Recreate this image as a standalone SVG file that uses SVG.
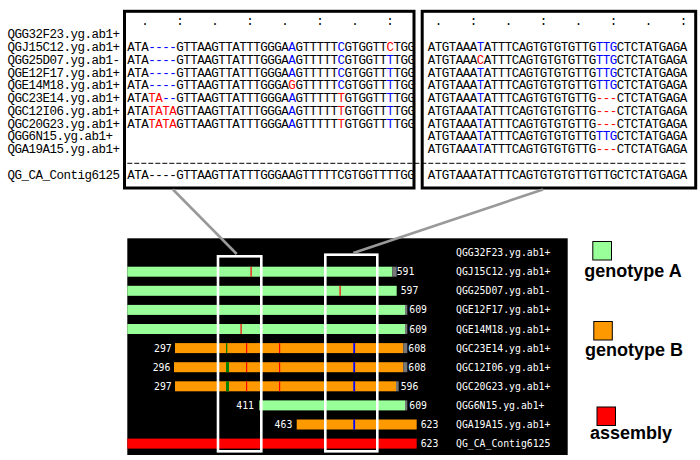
<svg xmlns="http://www.w3.org/2000/svg" width="700" height="460" viewBox="0 0 700 460">
<style>
.seq{font-family:"Liberation Mono","DejaVu Sans Mono",monospace;font-size:12.5px;letter-spacing:-0.5px;fill:#000}
.b{fill:#0000ff}
.r{fill:#ff0000}
.box{fill:none;stroke:#000;stroke-width:3}
.win{fill:none;stroke:#fff;stroke-width:2.6}
.pt{font-family:"DejaVu Sans Mono",monospace;font-size:9.8px;fill:#fff}
.leg{font-family:"Liberation Sans",Arial,sans-serif;font-size:18px;font-weight:bold;fill:#000}
.conn{stroke:#999;stroke-width:2.6;fill:none}
.ga{fill:#99ff99}
.gb{fill:#ff9900}
.as{fill:#ff0000}
.cap{fill:#777}
.mr{fill:#ff0000}
.mg{fill:#008000}
.mb{fill:#0000ff}
.sq{stroke:#000;stroke-width:1}
</style>
<rect width="700" height="460" fill="#fff"/>

<g id="read-labels" class="seq">
<text x="7.5" y="38.1">QGG32F23.yg.ab1+</text>
<text x="7.5" y="50.9">QGJ15C12.yg.ab1+</text>
<text x="7.5" y="63.7">QGG25D07.yg.ab1-</text>
<text x="7.5" y="76.5">QGE12F17.yg.ab1+</text>
<text x="7.5" y="89.2">QGE14M18.yg.ab1+</text>
<text x="7.5" y="102">QGC23E14.yg.ab1+</text>
<text x="7.5" y="114.8">QGC12I06.yg.ab1+</text>
<text x="7.5" y="127.6">QGC20G23.yg.ab1+</text>
<text x="7.5" y="140.4">QGG6N15.yg.ab1+</text>
<text x="7.5" y="153.2">QGA19A15.yg.ab1+</text>
<text x="7.5" y="179.2">QG_CA_Contig6125</text>
</g>

<line x1="127.3" y1="163.3" x2="687" y2="163.3" stroke="#000" stroke-width="1" stroke-dasharray="5 2"/>

<g id="alignment-left" class="seq">
<text x="127.3" y="25" xml:space="preserve">  .    :    .    :    .    :    .    :</text>
<text x="127.3" y="50.9">ATA<tspan class="b">----</tspan>GTTAAGTTATTTGGGA<tspan class="b">A</tspan>GTTTTT<tspan class="b">C</tspan>GTGGTT<tspan class="r">C</tspan>TGG</text>
<text x="127.3" y="63.7">ATA<tspan class="b">----</tspan>GTTAAGTTATTTGGGA<tspan class="b">A</tspan>GTTTTT<tspan class="b">C</tspan>GTGGTT<tspan class="b">T</tspan>TGG</text>
<text x="127.3" y="76.5">ATA<tspan class="b">----</tspan>GTTAAGTTATTTGGGA<tspan class="b">A</tspan>GTTTTT<tspan class="b">C</tspan>GTGGTT<tspan class="b">T</tspan>TGG</text>
<text x="127.3" y="89.2">ATA<tspan class="b">----</tspan>GTTAAGTTATTTGGGA<tspan class="r">G</tspan>GTTTTT<tspan class="b">C</tspan>GTGGTT<tspan class="b">T</tspan>TGG</text>
<text x="127.3" y="102">ATA<tspan class="r">TA</tspan><tspan class="b">--</tspan>GTTAAGTTATTTGGGA<tspan class="b">A</tspan>GTTTTT<tspan class="r">T</tspan>GTGGTT<tspan class="b">T</tspan>TGG</text>
<text x="127.3" y="114.8">ATA<tspan class="r">TATA</tspan>GTTAAGTTATTTGGGA<tspan class="b">A</tspan>GTTTTT<tspan class="r">T</tspan>GTGGTT<tspan class="b">T</tspan>TGG</text>
<text x="127.3" y="127.6">ATA<tspan class="r">TATA</tspan>GTTAAGTTATTTGGGA<tspan class="b">A</tspan>GTTTTT<tspan class="r">T</tspan>GTGGTT<tspan class="b">T</tspan>TGG</text>
<text x="127.3" y="179.2">ATA----GTTAAGTTATTTGGGAAGTTTTTCGTGGTTTTGG</text>
<rect class="box" x="124.5" y="11.3" width="289.5" height="176.7"/>
</g>

<g id="alignment-right" class="seq">
<text x="427.7" y="25" xml:space="preserve"> .    :    .    :    .    :    .    :</text>
<text x="427.7" y="50.9">ATGTAAA<tspan class="b">T</tspan>ATTTCAGTGTGTGTTG<tspan class="b">TTG</tspan>CTCTATGAGA</text>
<text x="427.7" y="63.7">ATGTAAA<tspan class="r">C</tspan>ATTTCAGTGTGTGTTG<tspan class="b">TTG</tspan>CTCTATGAGA</text>
<text x="427.7" y="76.5">ATGTAAA<tspan class="b">T</tspan>ATTTCAGTGTGTGTTG<tspan class="b">TTG</tspan>CTCTATGAGA</text>
<text x="427.7" y="89.2">ATGTAAA<tspan class="b">T</tspan>ATTTCAGTGTGTGTTG<tspan class="b">TTG</tspan>CTCTATGAGA</text>
<text x="427.7" y="102">ATGTAAA<tspan class="b">T</tspan>ATTTCAGTGTGTGTTG<tspan class="r">---</tspan>CTCTATGAGA</text>
<text x="427.7" y="114.8">ATGTAAA<tspan class="b">T</tspan>ATTTCAGTGTGTGTTG<tspan class="r">---</tspan>CTCTATGAGA</text>
<text x="427.7" y="127.6">ATGTAAA<tspan class="b">T</tspan>ATTTCAGTGTGTGTTG<tspan class="r">---</tspan>CTCTATGAGA</text>
<text x="427.7" y="140.4">ATGTAAA<tspan class="b">T</tspan>ATTTCAGTGTGTGTTG<tspan class="b">TTG</tspan>CTCTATGAGA</text>
<text x="427.7" y="153.2">ATGTAAA<tspan class="b">T</tspan>ATTTCAGTGTGTGTTG<tspan class="r">---</tspan>CTCTATGAGA</text>
<text x="427.7" y="179.2">ATGTAAATATTTCAGTGTGTGTTGTTGCTCTATGAGA</text>
<rect class="box" x="422.2" y="11.3" width="273.5" height="176.7"/>
</g>

<g id="read-map">
<rect x="127.3" y="238.3" width="440.4" height="216.7" fill="#000"/>
<g class="pt">
<text x="456" y="256.1">QGG32F23.yg.ab1+</text>
<text x="456" y="275.2">QGJ15C12.yg.ab1+</text>
<text x="456" y="294.3">QGG25D07.yg.ab1-</text>
<text x="456" y="313.4">QGE12F17.yg.ab1+</text>
<text x="456" y="332.5">QGE14M18.yg.ab1+</text>
<text x="456" y="351.6">QGC23E14.yg.ab1+</text>
<text x="456" y="370.7">QGC12I06.yg.ab1+</text>
<text x="456" y="389.8">QGC20G23.yg.ab1+</text>
<text x="456" y="408.9">QGG6N15.yg.ab1+</text>
<text x="456" y="428.0">QGA19A15.yg.ab1+</text>
<text x="456" y="447.1">QG_CA_Contig6125</text>
</g>
<!-- row 2 -->
<rect class="ga" x="127.3" y="266.7" width="265" height="10"/>
<rect class="cap" x="392.3" y="266.7" width="4.4" height="10"/>
<rect class="mr" x="250.5" y="266.7" width="1.2" height="10"/>
<text class="pt" x="396.7" y="275.2">591</text>
<!-- row 3 -->
<rect class="ga" x="127.3" y="285.8" width="269.4" height="10"/>
<rect class="mr" x="339.5" y="285.8" width="1.2" height="10"/>
<text class="pt" x="400.7" y="294.3">597</text>
<!-- row 4 -->
<rect class="ga" x="127.3" y="304.9" width="277.7" height="10"/>
<rect class="cap" x="405" y="304.9" width="2.3" height="10"/>
<text class="pt" x="409.3" y="313.4">609</text>
<!-- row 5 -->
<rect class="ga" x="127.3" y="324" width="277.7" height="10"/>
<rect class="cap" x="405" y="324" width="2.3" height="10"/>
<rect class="mr" x="240.5" y="324" width="1.2" height="10"/>
<text class="pt" x="409.3" y="332.5">609</text>
<!-- row 6 -->
<text class="pt" x="171.7" y="351.6" text-anchor="end">297</text>
<rect class="gb" x="175" y="343.1" width="228.3" height="10"/>
<rect class="cap" x="403.3" y="343.1" width="4" height="10"/>
<rect class="mg" x="226" y="343.1" width="1.3" height="10"/>
<rect class="mr" x="246" y="343.1" width="1.2" height="10"/>
<rect class="mr" x="279" y="343.1" width="1.2" height="10"/>
<rect class="mb" x="353.3" y="343.1" width="1.8" height="10"/>
<text class="pt" x="408.3" y="351.6">608</text>
<!-- row 7 -->
<text class="pt" x="170.4" y="370.7" text-anchor="end">296</text>
<rect class="gb" x="174" y="362.2" width="229.3" height="10"/>
<rect class="cap" x="403.3" y="362.2" width="4" height="10"/>
<rect class="mg" x="226" y="362.2" width="3" height="10"/>
<rect class="mr" x="246" y="362.2" width="1.2" height="10"/>
<rect class="mr" x="279" y="362.2" width="1.2" height="10"/>
<rect class="mb" x="353.3" y="362.2" width="1.8" height="10"/>
<text class="pt" x="408.3" y="370.7">608</text>
<!-- row 8 -->
<text class="pt" x="171.7" y="389.8" text-anchor="end">297</text>
<rect class="gb" x="175" y="381.3" width="221" height="10"/>
<rect class="cap" x="396" y="381.3" width="2.7" height="10"/>
<rect class="mg" x="226" y="381.3" width="3" height="10"/>
<rect class="mr" x="246" y="381.3" width="1.2" height="10"/>
<rect class="mr" x="279" y="381.3" width="1.2" height="10"/>
<rect class="mb" x="353.3" y="381.3" width="1.8" height="10"/>
<text class="pt" x="400.7" y="389.8">596</text>
<!-- row 9 -->
<text class="pt" x="254" y="408.9" text-anchor="end">411</text>
<rect class="ga" x="259.3" y="400.4" width="145.7" height="10"/>
<rect class="cap" x="405" y="400.4" width="2.3" height="10"/>
<text class="pt" x="409.3" y="408.9">609</text>
<!-- row 10 -->
<text class="pt" x="292.3" y="428.0" text-anchor="end">463</text>
<rect class="gb" x="296.7" y="419.5" width="120" height="10"/>
<rect class="mb" x="353.3" y="419.5" width="1.8" height="10"/>
<text class="pt" x="420.7" y="428.0">623</text>
<!-- row 11 -->
<rect class="as" x="127.3" y="438.6" width="289.4" height="10"/>
<text class="pt" x="420.7" y="447.1">623</text>
<rect class="win" x="218" y="256.3" width="43.3" height="195"/>
<rect class="win" x="325.3" y="254.7" width="52" height="196.6"/>
</g>

<g id="connectors">
<line class="conn" x1="173" y1="189.5" x2="236.7" y2="254"/>
<line class="conn" x1="543" y1="189.5" x2="353.3" y2="253"/>
</g>

<g id="legend-genotype-a">
<rect class="ga sq" x="592.8" y="241.5" width="18.7" height="18.5"/>
<text class="leg" x="584.3" y="277">genotype A</text>
</g>
<g id="legend-genotype-b">
<rect class="gb sq" x="593.8" y="321.5" width="18.5" height="18.5"/>
<text class="leg" x="585" y="355.5">genotype B</text>
</g>
<g id="legend-assembly">
<rect class="as sq" x="597" y="407" width="18.5" height="18.5"/>
<text class="leg" x="590" y="438.5">assembly</text>
</g>
</svg>
